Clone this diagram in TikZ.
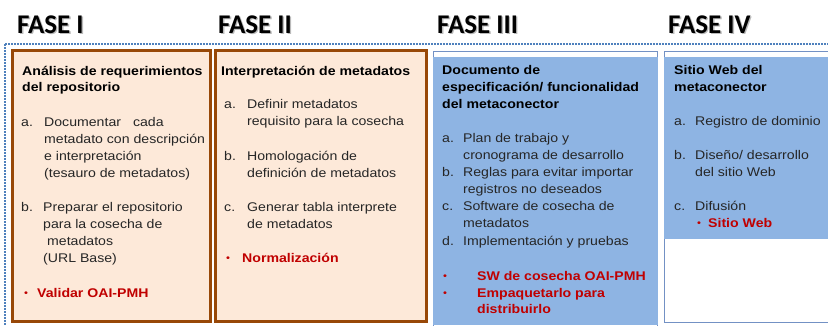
\documentclass[tikz,border=0pt]{standalone}
\usepackage{fontspec}
\setmainfont{Liberation Sans}[FakeStretch=1.12]
\newfontfamily\headfont{Carlito}
\definecolor{peach}{HTML}{FDE9D9}
\definecolor{brownb}{HTML}{984807}
\definecolor{bluef}{HTML}{8EB4E3}
\definecolor{blueb}{HTML}{7391C4}
\definecolor{dotblue}{HTML}{4F81BD}
\definecolor{redt}{HTML}{C00000}
\definecolor{txt}{HTML}{262626}
\begin{document}
\begin{tikzpicture}[x=1pt,y=-1pt,
  fase/.style={anchor=base west,inner sep=0pt,font=\headfont\bfseries\fontsize{27}{30}\selectfont,text=black},
  fshadow/.style={anchor=base west,inner sep=0pt,font=\headfont\bfseries\fontsize{27}{30}\selectfont,text=black!45,opacity=0.6},
  hd/.style={anchor=base west,inner sep=0pt,font=\bfseries\fontsize{12.6}{15}\selectfont,text=black},
  it/.style={anchor=base west,inner sep=0pt,font=\fontsize{12.6}{15}\selectfont,text=txt},
  lab/.style={anchor=base west,inner sep=0pt,font=\fontsize{12.6}{15}\selectfont,text=txt},
  rd/.style={anchor=base west,inner sep=0pt,font=\bfseries\fontsize{12.6}{15}\selectfont,text=redt},
  bul/.style={anchor=base west,inner sep=0pt,font=\fontsize{10}{12}\selectfont,text=redt},
  brownbox/.style={draw=brownb,line width=3pt,fill=peach},
  bluebox/.style={draw=blueb,line width=1pt,fill=white},
  dotline/.style={draw=dotblue,line width=1.8pt,dash pattern=on 1.6pt off 1.4pt}
]
\useasboundingbox (0,0) rectangle (828,325);
\fill[white] (0,0) rectangle (828,325);

% headings
\node[fshadow] (f1s) at (18.3,34.3) {FASE I};
\node[fase] (f1) at (17,33) {FASE I};
\node[fshadow] (f2s) at (219.3,34.3) {FASE II};
\node[fase] (f2) at (218,33) {FASE II};
\node[fshadow] (f3s) at (438.3,34.3) {FASE III};
\node[fase] (f3) at (437,33) {FASE III};
\node[fshadow] (f4s) at (669.3,34.3) {FASE IV};
\node[fase] (f4) at (668,33) {FASE IV};

% dotted frame
\draw[dotline] (5,44) -- (828,44);
\draw[dotline] (5,44) -- (5,325);

% boxes
\draw[brownbox] (12.5,50.5) rectangle (210.5,321.5);
\draw[brownbox] (215.5,50.5) rectangle (426.5,321.5);
\draw[bluebox] (433.5,51.5) rectangle (657.5,327);
\fill[bluef] (433,57) rectangle (658,325);
\draw[bluebox] (664.5,51.5) rectangle (830,322.5);
\fill[bluef] (664,57) rectangle (828,239);

% Box I
\node[hd] (a1) at (22,75) {Análisis de requerimientos};
\node[hd] (a2) at (22,91) {del repositorio};
\node[lab] (a3) at (21,126) {a.};
\node[it] (a4) at (44,126) {Documentar\hspace{12pt}cada};
\node[it] (a5) at (44,143) {metadato con descripción};
\node[it] (a6) at (44,160) {e interpretación};
\node[it] (a7) at (44,177) {(tesauro de metadatos)};
\node[lab] (a8) at (21,211) {b.};
\node[it] (a9) at (43,211) {Preparar el repositorio};
\node[it] (a10) at (43,228) {para la cosecha de};
\node[it] (a11) at (47,245) {metadatos};
\node[it] (a12) at (43,262) {(URL Base)};
\node[bul] (a13) at (24,296) {•};
\node[rd] (a14) at (37,297) {Validar OAI-PMH};

% Box II
\node[hd] (b1) at (221,75) {Interpretación de metadatos};
\node[lab] (b2) at (224,108) {a.};
\node[it] (b3) at (247,108) {Definir metadatos};
\node[it] (b4) at (247,125) {requisito para la cosecha};
\node[lab] (b5) at (224,160) {b.};
\node[it] (b6) at (247,160) {Homologación de};
\node[it] (b7) at (247,177) {definición de metadatos};
\node[lab] (b8) at (224,211) {c.};
\node[it] (b9) at (247,211) {Generar tabla interprete};
\node[it] (b10) at (247,228) {de metadatos};
\node[bul] (b11) at (226,261) {•};
\node[rd] (b12) at (242,262) {Normalización};

% Box III
\node[hd] (c1) at (442,74) {Documento de};
\node[hd] (c2) at (442,91) {especificación/ funcionalidad};
\node[hd] (c3) at (442,108) {del metaconector};
\node[lab] (c4) at (442,142) {a.};
\node[it] (c5) at (463,142) {Plan de trabajo y};
\node[it] (c6) at (463,159) {cronograma de desarrollo};
\node[lab] (c7) at (442,176) {b.};
\node[it] (c8) at (463,176) {Reglas para evitar importar};
\node[it] (c9) at (463,193) {registros no deseados};
\node[lab] (c10) at (442,210) {c.};
\node[it] (c11) at (463,210) {Software de cosecha de};
\node[it] (c12) at (463,227) {metadatos};
\node[lab] (c13) at (442,245) {d.};
\node[it] (c14) at (463,245) {Implementación y pruebas};
\node[bul] (c15) at (443,279) {•};
\node[rd] (c16) at (477,280) {SW de cosecha OAI-PMH};
\node[bul] (c17) at (443,296) {•};
\node[rd] (c18) at (477,297) {Empaquetarlo para};
\node[rd] (c19) at (477,313) {distribuirlo};

% Box IV
\node[hd] (d1) at (674,74) {Sitio Web del};
\node[hd] (d2) at (674,91) {metaconector};
\node[lab] (d3) at (674,125) {a.};
\node[it] (d4) at (695,125) {Registro de dominio};
\node[lab] (d5) at (674,159) {b.};
\node[it] (d6) at (695,159) {Diseño/ desarrollo};
\node[it] (d7) at (695,176) {del sitio Web};
\node[lab] (d8) at (674,210) {c.};
\node[it] (d9) at (695,210) {Difusión};
\node[bul] (d10) at (697,226) {•};
\node[rd] (d11) at (708,227) {Sitio Web};
\end{tikzpicture}
\end{document}
